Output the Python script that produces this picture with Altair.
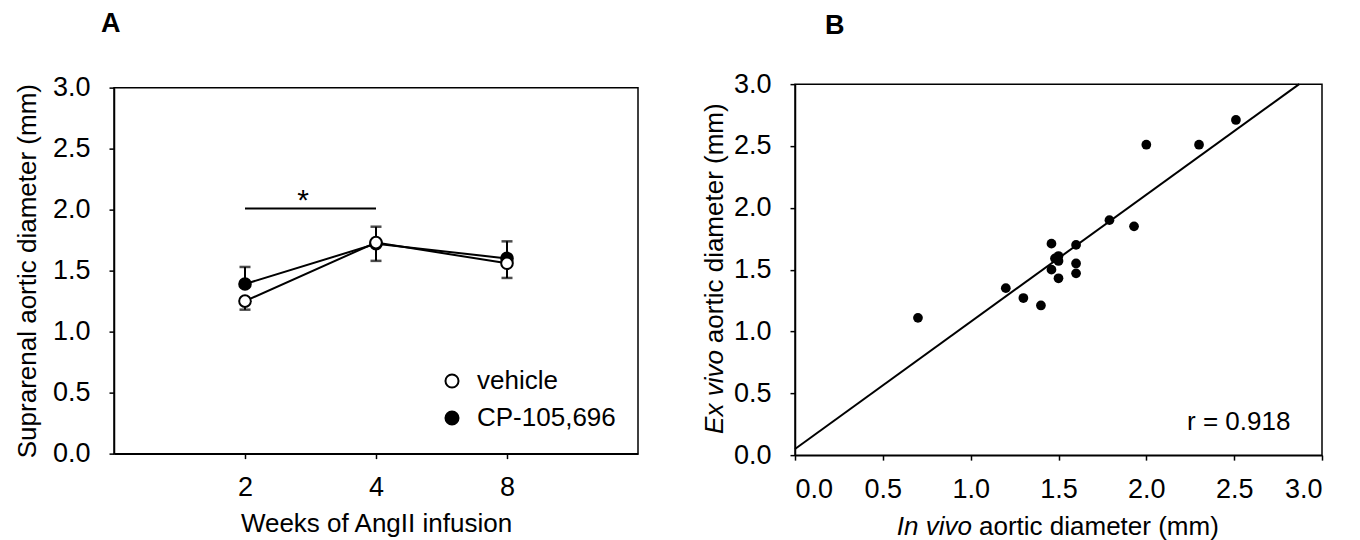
import altair as alt
import pandas as pd

# ---------------- Panel A data ----------------
weeks = ["2", "4", "8"]
groups = ["vehicle", "CP-105,696"]
vehicle_mean = [1.25, 1.73, 1.56]
vehicle_err = [0.07, 0.15, 0.12]   # drawn downward
cp_mean = [1.39, 1.72, 1.60]
cp_err = [0.14, 0.14, 0.14]        # drawn upward
sig_from = ["2"]
sig_to = ["4"]
sig_y = [2.01]
sig_label = ["*"]

# ---------------- Panel B data ----------------
in_vivo = [0.70, 1.20, 1.30, 1.40, 1.46, 1.46, 1.48, 1.50, 1.50, 1.50,
           1.60, 1.60, 1.60, 1.79, 1.93, 2.00, 2.30, 2.51]
ex_vivo = [1.11, 1.35, 1.27, 1.21, 1.71, 1.50, 1.59, 1.61, 1.57, 1.43,
           1.70, 1.55, 1.47, 1.90, 1.85, 2.51, 2.51, 2.71]
reg_x = [0.0, 2.87]
reg_y = [0.05, 3.0]
r_text = ["r = 0.918"]
r_x = [2.82]
r_y = [0.20]

axis_ticks = [0.0, 0.5, 1.0, 1.5, 2.0, 2.5, 3.0]
FONT = "Liberation Sans"

# ---------------- Panel A ----------------
rows = []
for g, means, errs in [(groups[1], cp_mean, cp_err), (groups[0], vehicle_mean, vehicle_err)]:
    for w, m, e in zip(weeks, means, errs):
        if g == groups[0]:
            lo, hi, cap = m - e, m, m - e
        else:
            lo, hi, cap = m, m + e, m + e
        rows.append({"week": w, "group": g, "mean": m, "lo": lo, "hi": hi, "cap": cap})
dfA = pd.DataFrame(rows)

xA = alt.X("week:N", scale=alt.Scale(type="point", domain=weeks, padding=1),
           axis=alt.Axis(labelAngle=0, title="Weeks of AngII infusion",
                         labelPadding=16, titlePadding=10))
yA_scale = alt.Scale(domain=[0, 3], nice=False)
yA_axis = alt.Axis(values=axis_ticks, format=".1f", title="Suprarenal aortic diameter (mm)",
                   labelPadding=19, titlePadding=12)

base = alt.Chart(dfA)
err_rule = base.mark_rule(color="black", strokeWidth=2).encode(
    x=xA, y=alt.Y("lo:Q", scale=yA_scale, axis=yA_axis), y2="hi:Q")
err_cap = base.mark_tick(color="black", size=11, thickness=2.5).encode(
    x=xA, y=alt.Y("cap:Q", scale=yA_scale, axis=yA_axis))
lines = base.mark_line(color="black", strokeWidth=2).encode(
    x=xA, y=alt.Y("mean:Q", scale=yA_scale, axis=yA_axis), detail="group:N")
points = base.mark_point(filled=True, size=135, stroke="black", strokeWidth=2, opacity=1).encode(
    x=xA, y=alt.Y("mean:Q", scale=yA_scale, axis=yA_axis),
    fill=alt.Fill("group:N", scale=alt.Scale(domain=groups, range=["white", "black"]),
                  legend=alt.Legend(title=None, orient="none", legendX=325, legendY=284,
                                    symbolType="circle", symbolSize=170,
                                    symbolStrokeColor="black", symbolStrokeWidth=2,
                                    labelFontSize=26, labelFont=FONT, labelColor="black",
                                    labelOffset=12, rowPadding=11, padding=0)))

dfSig = pd.DataFrame({"a": sig_from, "b": sig_to, "y": sig_y, "t": sig_label})
sig_rule = alt.Chart(dfSig).mark_rule(color="black", strokeWidth=2).encode(
    x=alt.X("a:N", scale=alt.Scale(type="point", domain=weeks, padding=1)), x2="b:N",
    y=alt.Y("y:Q", scale=yA_scale))
sig_txt = alt.Chart(dfSig).mark_text(font=FONT, fontSize=30, dx=58, dy=2, baseline="alphabetic",
                                     color="black").encode(
    x=alt.X("a:N", scale=alt.Scale(type="point", domain=weeks, padding=1)),
    y=alt.Y("y:Q", scale=yA_scale), text="t:N")

panelA = alt.layer(err_rule, err_cap, lines, points, sig_rule, sig_txt).properties(
    width=524, height=366,
    title=alt.TitleParams("A", anchor="start", frame="group", dx=-13, offset=36, fontSize=27,
                          fontWeight="bold", font=FONT, color="black"))

# ---------------- Panel B ----------------
dfB = pd.DataFrame({"x": in_vivo, "y": ex_vivo})
dfR = pd.DataFrame({"x": reg_x, "y": reg_y})
dfT = pd.DataFrame({"x": r_x, "y": r_y, "t": r_text})

xB_scale = alt.Scale(domain=[0, 3], nice=False)
yB_scale = alt.Scale(domain=[0, 3], nice=False)
xB_axis = alt.Axis(values=axis_ticks, format=".1f", title=None, labelPadding=16)
yB_axis = alt.Axis(values=axis_ticks, format=".1f", title=None, labelPadding=19)

scatter = alt.Chart(dfB).mark_circle(size=95, color="black", opacity=1).encode(
    x=alt.X("x:Q", scale=xB_scale, axis=xB_axis),
    y=alt.Y("y:Q", scale=yB_scale, axis=yB_axis))
reg = alt.Chart(dfR).mark_line(color="black", strokeWidth=2).encode(
    x=alt.X("x:Q", scale=xB_scale, axis=xB_axis),
    y=alt.Y("y:Q", scale=yB_scale, axis=yB_axis))
rtxt = alt.Chart(dfT).mark_text(font=FONT, fontSize=26, align="right", baseline="alphabetic",
                                color="black").encode(
    x=alt.X("x:Q", scale=xB_scale, axis=xB_axis),
    y=alt.Y("y:Q", scale=yB_scale, axis=yB_axis), text="t:N")

# axis titles with mixed italic / roman text
xt_italic = ["In vivo"]
xt_roman = ["aortic diameter (mm)"]
yt_italic = ["Ex vivo"]
yt_roman = ["aortic diameter (mm)"]

def txt(lst, **kw):
    return alt.Chart(pd.DataFrame({"t": lst})).mark_text(
        font=FONT, fontSize=26, color="black", baseline="alphabetic", **kw).encode(text="t:N")

xt1 = txt(xt_italic, fontStyle="italic", align="right").encode(x=alt.value(177), y=alt.value(451))
xt2 = txt(xt_roman, align="left").encode(x=alt.value(184), y=alt.value(451))
yt1 = txt(yt_italic, fontStyle="italic", align="right", angle=270).encode(x=alt.value(-72), y=alt.value(266))
yt2 = txt(yt_roman, align="left", angle=270).encode(x=alt.value(-72), y=alt.value(259))

panelB = alt.layer(reg, scatter, rtxt, xt1, xt2, yt1, yt2).properties(
    width=527, height=371,
    title=alt.TitleParams("B", anchor="start", frame="group", dx=30, offset=30, fontSize=27,
                          fontWeight="bold", font=FONT, color="black"))

chart = alt.hconcat(panelA, panelB, spacing=62, center=True, background="white",
                    padding={"left": 5, "top": 0, "right": 5, "bottom": 5}).configure_view(
    stroke="black", strokeWidth=1.5
).configure_axis(
    domainColor="black", domainWidth=1.5, tickColor="black", tickWidth=1.5, tickSize=5,
    labelFont=FONT, labelFontSize=27, labelColor="black",
    titleFont=FONT, titleFontSize=26, titleFontWeight="normal", titleColor="black",
    grid=False
)

chart.save("out.html", embed_options={"renderer": "svg", "actions": False})
